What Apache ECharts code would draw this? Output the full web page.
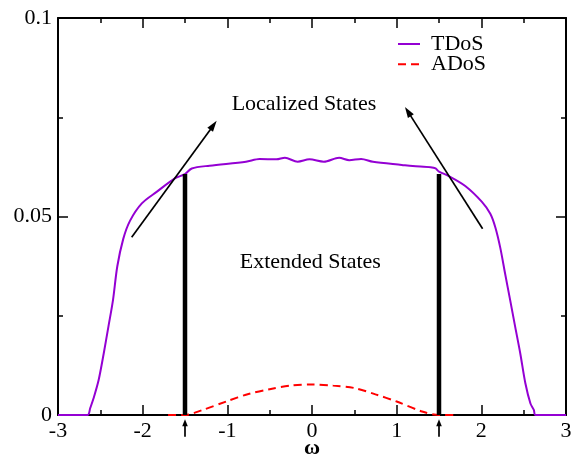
<!DOCTYPE html>
<html>
<head>
<meta charset="utf-8">
<script src="https://cdn.jsdelivr.net/npm/echarts@6/dist/echarts.min.js"></script>
<style>
  html, body { margin: 0; padding: 0; background: #fff; }
  #chart { width: 571px; height: 454px; }
</style>
</head>
<body>
<div id="chart"></div>
<script>
// Total density of states (TDoS) versus frequency
const tdosX = [-3, -2.65, -2.62, -2.58, -2.52, -2.46, -2.405, -2.35, -2.30, -2.23, -2.15, -2.01, -1.835, -1.62, -1.50,
  -1.42, -1.21, -0.78, -0.62, -0.42, -0.32, -0.17, -0.03, 0.14, 0.32, 0.44, 0.58, 0.72, 1.06, 1.19, 1.40, 1.46, 1.50,
  1.615, 1.81, 2.007, 2.106, 2.165, 2.224, 2.28, 2.34, 2.40, 2.46, 2.52, 2.58, 2.62, 2.64, 3];
const tdosY = [0, 0, 0.0017, 0.0042, 0.0088, 0.0155, 0.0222, 0.029, 0.0374, 0.0443, 0.0489, 0.0533, 0.0562, 0.0596, 0.0607,
  0.0621, 0.0628, 0.0638, 0.0645, 0.0644, 0.0648, 0.0638, 0.0644, 0.0638, 0.0648, 0.0642, 0.0645, 0.0638, 0.063, 0.0627, 0.0624, 0.0621, 0.0613,
  0.0602, 0.0577, 0.0537, 0.0507, 0.0473, 0.0421, 0.0357, 0.029, 0.0222, 0.0155, 0.008, 0.0029, 0.0013, 0, 0];

// Density of the extended (delocalized) states (ADoS)
const adosX = [-1.7, -1.5, -1.3, -1.0, -0.75, -0.5, -0.25, 0, 0.25, 0.5, 0.75, 1.0, 1.3, 1.5, 1.7];
const adosY = [0, 0, 0.0012, 0.0035, 0.0053, 0.0065, 0.0074, 0.0077, 0.0074, 0.0068, 0.0052, 0.0034, 0.0009, 0, 0];

// Mobility edges: position and height of the vertical markers
const edgeX = [-1.5, 1.5];
const edgeTop = [0.0607, 0.0607];

// Arrows [x1, y1, x2, y2], head at (x2, y2)
const bigArrows = [[-2.13, 0.0448, -1.126, 0.0741], [2.015, 0.0469, 1.098, 0.0776]];
const edgeArrows = [[-1.5, -0.0055, -1.5, -0.0011], [1.5, -0.0055, 1.5, -0.0011]];

// Region labels [x, y]
const regionLabels = ['Localized States', 'Extended States'];
const regionPos = [[-0.094, 0.0783], [-0.02, 0.0385]];

const xTicks = { min: -3, max: 3, interval: 1 };
const yTicks = { min: 0, max: 0.1, interval: 0.05 };

const FONT = "'Liberation Serif', 'Times New Roman', serif";

function pairs(xs, ys) { return xs.map((x, i) => [x, ys[i]]); }

function arrowShape(api, r, headLen, headHalf, lw) {
  const p1 = api.coord([r[0], r[1]]);
  const p2 = api.coord([r[2], r[3]]);
  const dx = p2[0] - p1[0], dy = p2[1] - p1[1];
  const len = Math.hypot(dx, dy);
  const ux = dx / len, uy = dy / len;
  const bx = p2[0] - ux * headLen, by = p2[1] - uy * headLen;
  return {
    type: 'group',
    children: [
      { type: 'line', shape: { x1: p1[0], y1: p1[1], x2: bx + ux, y2: by + uy }, style: { stroke: '#000', lineWidth: lw } },
      { type: 'polygon', shape: { points: [[p2[0], p2[1]], [bx - uy * headHalf, by + ux * headHalf], [bx + uy * headHalf, by - ux * headHalf]] },
        style: { fill: '#000' } }
    ]
  };
}

function axisCommon() {
  return {
    axisLine: { show: true, onZero: false, lineStyle: { color: '#000', width: 2 } },
    axisTick: { show: true, inside: true, length: 10, lineStyle: { color: '#000', width: 1.5 } },
    minorTick: { show: true, splitNumber: 2, length: 5, lineStyle: { color: '#000', width: 1.5 } },
    splitLine: { show: false },
    minorSplitLine: { show: false }
  };
}

const chart = echarts.init(document.getElementById('chart'), null, { renderer: 'canvas' });

chart.setOption({
  animation: false,
  backgroundColor: '#fff',
  grid: { left: 58, right: 5, top: 18, bottom: 39, containLabel: false, outerBoundsMode: 'none' },
  legend: {
    orient: 'vertical',
    left: 392,
    top: 28,
    itemWidth: 22,
    itemHeight: 10,
    itemGap: -1.8,
    data: ['TDoS', 'ADoS'],
    itemStyle: { opacity: 0 },
    textStyle: { fontFamily: FONT, fontSize: 22, color: '#000', lineHeight: 20, padding: [0, 0, 0, 6] }
  },
  xAxis: [
    Object.assign({
      type: 'value', position: 'bottom', min: xTicks.min, max: xTicks.max, interval: xTicks.interval,
      name: 'ω', nameLocation: 'middle', nameGap: 22, nameMoveOverlap: false,
      nameTextStyle: { fontFamily: FONT, fontSize: 22, color: '#000', fontWeight: 'bold' },
      axisLabel: { fontFamily: FONT, fontSize: 22, color: '#000', margin: 5 }
    }, axisCommon()),
    Object.assign({
      type: 'value', position: 'top', min: xTicks.min, max: xTicks.max, interval: xTicks.interval,
      axisLabel: { show: false }
    }, axisCommon())
  ],
  yAxis: [
    Object.assign({
      type: 'value', position: 'left', min: yTicks.min, max: yTicks.max, interval: yTicks.interval,
      axisLabel: { fontFamily: FONT, fontSize: 22, color: '#000', margin: 6 }
    }, axisCommon()),
    Object.assign({
      type: 'value', position: 'right', min: yTicks.min, max: yTicks.max, interval: yTicks.interval,
      axisLabel: { show: false }
    }, axisCommon())
  ],
  series: [
    {
      name: 'TDoS', type: 'line', data: pairs(tdosX, tdosY), showSymbol: false, symbol: 'none',
      smooth: 0.3,
      lineStyle: { color: '#9400d3', width: 2 }, itemStyle: { color: '#9400d3' }, z: 3
    },
    {
      name: 'ADoS', type: 'line', data: pairs(adosX, adosY), showSymbol: false, symbol: 'none',
      smooth: 0.3,
      lineStyle: { color: '#ff0000', width: 2, type: [8, 5] }, itemStyle: { color: '#ff0000' }, z: 3
    },
    {
      type: 'custom', data: pairs(edgeX, edgeTop), z: 4, silent: true,
      renderItem: function (params, api) {
        const a = api.coord([api.value(0), 0]);
        const b = api.coord([api.value(0), api.value(1)]);
        return { type: 'line', shape: { x1: a[0], y1: a[1], x2: b[0], y2: b[1] }, style: { stroke: '#000', lineWidth: 4.5 } };
      }
    },
    {
      type: 'custom', data: bigArrows, z: 5, silent: true, clip: false,
      renderItem: function (params, api) {
        return arrowShape(api, bigArrows[params.dataIndex], 11, 3.5, 1.7);
      }
    },
    {
      type: 'custom', data: edgeArrows, z: 5, silent: true, clip: false,
      renderItem: function (params, api) {
        return arrowShape(api, edgeArrows[params.dataIndex], 7, 2.8, 1.7);
      }
    },
    {
      type: 'custom', data: regionPos, z: 5, silent: true,
      renderItem: function (params, api) {
        const p = api.coord(regionPos[params.dataIndex]);
        return {
          type: 'text', x: p[0], y: p[1],
          style: { text: regionLabels[params.dataIndex], fontFamily: FONT, fontSize: 22, fill: '#000', align: 'center', verticalAlign: 'middle' }
        };
      }
    }
  ]
});
</script>
</body>
</html>
